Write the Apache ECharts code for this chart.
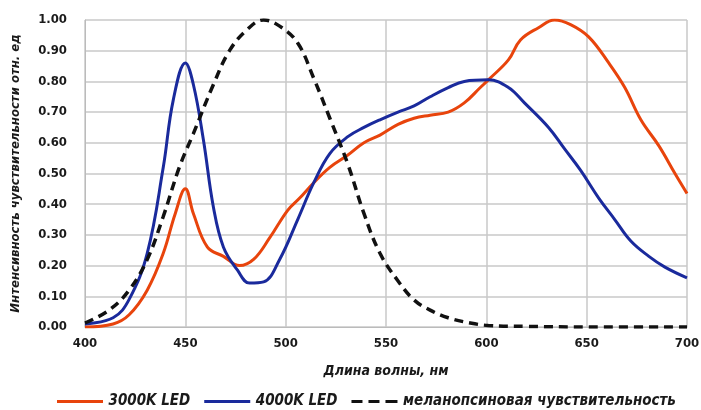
<!DOCTYPE html>
<html>
<head>
<meta charset="utf-8">
<script src="https://cdn.jsdelivr.net/npm/echarts@6/dist/echarts.min.js"></script>
<style>
  html, body { margin: 0; padding: 0; background: #fff; }
  #chart { width: 701px; height: 410px; }
</style>
</head>
<body>
<div id="chart"></div>
<script>
  // 3000K LED
  const warmNm = [400, 414, 422, 431, 439, 445, 450, 454, 461, 469, 477, 484, 492, 501, 507, 514, 522, 531, 539, 547, 556, 564, 572, 581, 589, 597, 601, 611, 617, 626, 634, 642, 651, 661, 669, 677, 686, 694, 700]
  const warmVal = [0.0, 0.01, 0.04, 0.12, 0.24, 0.37, 0.45, 0.37, 0.26, 0.23, 0.20, 0.22, 0.29, 0.38, 0.42, 0.47, 0.52, 0.56, 0.60, 0.625, 0.66, 0.68, 0.69, 0.70, 0.73, 0.78, 0.805, 0.87, 0.935, 0.975, 1.0, 0.985, 0.945, 0.86, 0.78, 0.675, 0.59, 0.50, 0.435]
  // 4000K LED
  const coolNm = [400, 414, 422, 431, 439, 444, 450, 454, 459, 464, 469, 476, 482, 489, 497, 506, 514, 522, 531, 539, 547, 556, 564, 572, 581, 589, 601, 611, 619, 631, 639, 647, 656, 664, 672, 681, 689, 700]
  const coolVal = [0.01, 0.03, 0.09, 0.24, 0.52, 0.74, 0.86, 0.79, 0.61, 0.39, 0.26, 0.185, 0.143, 0.147, 0.22, 0.35, 0.47, 0.565, 0.62, 0.65, 0.675, 0.70, 0.72, 0.75, 0.78, 0.80, 0.805, 0.78, 0.73, 0.65, 0.58, 0.51, 0.42, 0.35, 0.28, 0.23, 0.195, 0.16]
  // меланопсиновая чувствительность
  const melNm = [400, 412, 422, 431, 439, 447, 454, 464, 472, 481, 489, 497, 506, 514, 522, 531, 539, 547, 556, 564, 572, 581, 592, 601, 620, 650, 700]
  const melVal = [0.013, 0.055, 0.12, 0.22, 0.36, 0.52, 0.63, 0.79, 0.90, 0.97, 1.0, 0.98, 0.925, 0.81, 0.68, 0.53, 0.37, 0.24, 0.15, 0.088, 0.055, 0.03, 0.013, 0.005, 0.002, 0.0, 0.0]

  const seriesNames = ['3000K LED', '4000K LED', 'меланопсиновая чувствительность']

  const pairs = (xs, ys) => xs.map((x, i) => [x, ys[i]])

  const chart = echarts.init(document.getElementById('chart'))
  const txt = { fontFamily: 'DejaVu Sans Condensed, DejaVu Sans', color: '#1a1a1a' }
  const solidIcon = 'path://M0,0L46,0L46,3L0,3Z'
  const dashIcon = 'path://M0,0L11,0L11,3L0,3Z M17,0L28,0L28,3L17,3Z M34,0L46,0L46,3L34,3Z'

  chart.setOption({
    animation: false,
    grid: { left: 85, right: 14, top: 20, bottom: 83, outerBoundsMode: 'none' },
    legend: {
      top: 389,
      left: 52,
      itemWidth: 47,
      itemHeight: 3,
      itemGap: 14,
      textStyle: Object.assign({ fontSize: 15, fontStyle: 'italic', fontWeight: 'bold' }, txt),
      data: [
        { name: seriesNames[0], icon: solidIcon },
        { name: seriesNames[1], icon: solidIcon },
        { name: seriesNames[2], icon: dashIcon }
      ]
    },
    xAxis: {
      type: 'value',
      min: 400,
      max: 700,
      interval: 50,
      name: 'Длина волны, нм',
      nameLocation: 'middle',
      nameGap: 37,
      nameTextStyle: Object.assign({ fontSize: 14, fontStyle: 'italic', fontWeight: 'bold' }, txt),
      axisLine: { lineStyle: { color: '#bbb' } },
      axisTick: { show: false },
      axisLabel: Object.assign({ fontSize: 13, fontWeight: 'bold', margin: 10 }, txt),
      splitLine: { show: true, lineStyle: { color: '#c8c8c8', width: 1.5 } }
    },
    yAxis: {
      type: 'value',
      min: 0,
      max: 1,
      interval: 0.1,
      name: 'Интенсивность чувствительности отн. ед',
      nameLocation: 'middle',
      nameGap: 63,
      nameTextStyle: Object.assign({ fontSize: 13, fontStyle: 'italic', fontWeight: 'bold' }, txt),
      axisLine: { show: true, lineStyle: { color: '#bbb' } },
      axisTick: { show: false },
      axisLabel: Object.assign({ fontSize: 13, fontWeight: 'bold', margin: 18, formatter: v => v.toFixed(2) }, txt),
      splitLine: { show: true, lineStyle: { color: '#c8c8c8', width: 1.5 } }
    },
    series: [
      {
        name: seriesNames[0],
        type: 'line',
        smooth: 0.4,
        showSymbol: false,
        z: 3,
        itemStyle: { color: '#e8440c' },
        lineStyle: { color: '#e8440c', width: 3 },
        data: pairs(warmNm, warmVal)
      },
      {
        name: seriesNames[1],
        type: 'line',
        smooth: 0.4,
        showSymbol: false,
        z: 4,
        itemStyle: { color: '#1a2a9c' },
        lineStyle: { color: '#1a2a9c', width: 3 },
        data: pairs(coolNm, coolVal)
      },
      {
        name: seriesNames[2],
        type: 'line',
        smooth: 0.4,
        showSymbol: false,
        z: 5,
        itemStyle: { color: '#111' },
        lineStyle: { color: '#111', width: 3.5, type: [9, 6] },
        data: pairs(melNm, melVal)
      }
    ]
  })
</script>
</body>
</html>
